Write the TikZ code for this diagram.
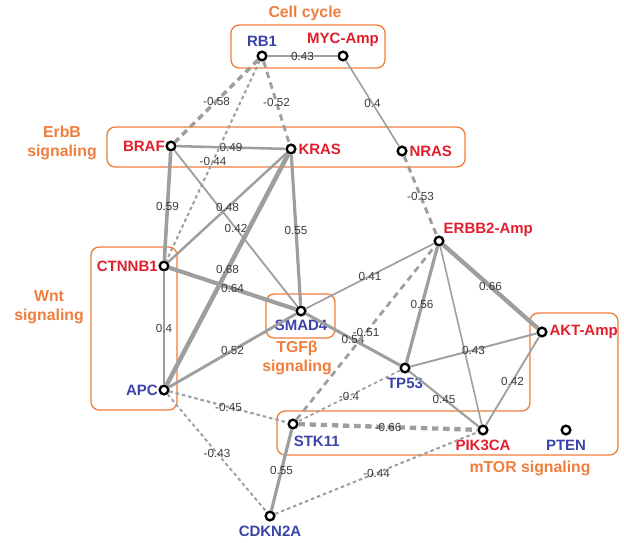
\documentclass[tikz,border=0pt]{standalone}
\usepackage{fontspec}
\setmainfont{Liberation Sans}
\usetikzlibrary{positioning}

\definecolor{genered}{RGB}{226,30,45}
\definecolor{geneblue}{RGB}{58,68,168}
\definecolor{grouporange}{RGB}{240,125,60}
\definecolor{linkgray}{RGB}{158,158,158}
\definecolor{wtgray}{RGB}{60,60,60}

\tikzset{
  gene/.style={circle, draw=black, line width=2pt, fill=white, inner sep=0pt, minimum size=0.26cm},
  redlab/.style={text=genered, font=\bfseries\fontsize{12.8}{14}\selectfont, inner sep=0.5pt},
  bluelab/.style={text=geneblue, font=\bfseries\fontsize{12.8}{14}\selectfont, inner sep=0.5pt},
  group/.style={draw=grouporange, line width=1.1pt, rounded corners=7pt},
  grouplab/.style={text=grouporange, font=\bfseries\fontsize{13.5}{16.5}\selectfont, align=center},
  edge/.style={draw=linkgray},
  poslink/.style={edge, line width=(#1-0.25)*9pt},
  neglink/.style={edge, line width=(#1-0.25)*9pt, dash pattern=on 3pt off 2.5pt},
  heavyneg/.style={edge, line width=(#1-0.25)*9pt, dash pattern=on 5.5pt off 4pt},
  wt/.style={text=wtgray, font=\fontsize{10}{11}\selectfont, inner sep=0pt}
}

\begin{document}
\begin{tikzpicture}[x=0.03cm, y=-0.03cm]
\useasboundingbox (0,0) rectangle (624,543);

% Pathway boxes
\draw[group] (231,25) rectangle (385,68);
\draw[group] (107,127) rectangle (465,167);
\draw[group] (91,247) rectangle (177,410);
\draw[group] (266,294) rectangle (335,338);
\draw[group] (277,411) -- (530,411) -- (530,313) -- (618,313) -- (618,455) -- (277,455) -- cycle;

\node[grouplab] (cellcycle) at (305,13) {Cell cycle};
\node[grouplab] (erbb) at (62,143) {ErbB\\signaling};
\node[grouplab] (wnt) at (49,307) {Wnt\\signaling};
\node[grouplab] (tgfb) at (297,358) {TGFβ\\signaling};
\node[grouplab] (mtor) at (530,468) {mTOR signaling};

% Genes
\node[gene, label={[bluelab, label distance=3pt]above:RB1}] (rb1) at (262,56) {};
\node[gene, label={[redlab, label distance=3pt]above:MYC-Amp}] (myc) at (343,56) {};
\node[gene, label={[redlab]left:BRAF}] (braf) at (171,146) {};
\node[gene, label={[redlab, label distance=1pt]right:KRAS}] (kras) at (291,149) {};
\node[gene, label={[redlab, label distance=1pt]right:NRAS}] (nras) at (402,151) {};
\node[gene, label={[redlab]left:CTNNB1}] (ctnnb1) at (164,266) {};
\node[gene, label={[bluelab]left:APC}] (apc) at (164,390) {};
\node[gene, label={[bluelab, label distance=2pt]below:SMAD4}] (smad4) at (301,311) {};
\node[gene, label={[redlab]above right:ERBB2-Amp}] (erbb2) at (439,241) {};
\node[gene, label={[redlab, label distance=1pt]right:AKT-Amp}] (akt) at (542,332) {};
\node[gene, label={[bluelab, label distance=3pt]below:TP53}] (tp53) at (405,368) {};
\node[gene, label={[redlab, label distance=3pt]below:PIK3CA}] (pik3ca) at (483,430) {};
\node[gene, label={[bluelab, label distance=3pt]below:PTEN}] (pten) at (566,430) {};
\node[gene, label={[bluelab, anchor=north west, label distance=5pt]below:STK11}] (stk11) at (293,424) {};
\node[gene, label={[bluelab, label distance=3pt]below:CDKN2A}] (cdkn2a) at (270,516) {};

% Positive links
\draw[poslink=0.43] (rb1) -- node[wt] {0.43} (myc);
\draw[poslink=0.4] (myc) -- node[wt] {0.4} (nras);
\draw[poslink=0.49] (braf) -- node[wt] {0.49} (kras);
\draw[poslink=0.59] (braf) -- node[wt] {0.59} (ctnnb1);
\draw[poslink=0.42] (braf) -- node[wt] {0.42} (smad4);
\draw[poslink=0.48] (kras) -- node[wt] {0.48} (ctnnb1);
\draw[poslink=0.68] (kras) -- node[wt] {0.68} (apc);
\draw[poslink=0.55] (kras) -- node[wt] {0.55} (smad4);
\draw[poslink=0.64] (ctnnb1) -- node[wt] {0.64} (smad4);
\draw[poslink=0.4] (ctnnb1) -- node[wt] {0.4} (apc);
\draw[poslink=0.52] (apc) -- node[wt] {0.52} (smad4);
\draw[poslink=0.41] (smad4) -- node[wt] {0.41} (erbb2);
\draw[poslink=0.54] (smad4) -- node[wt] {0.54} (tp53);
\draw[poslink=0.56] (erbb2) -- node[wt] {0.56} (tp53);
\draw[poslink=0.66] (erbb2) -- node[wt] {0.66} (akt);
\draw[poslink=0.4] (erbb2) -- (pik3ca);
\draw[poslink=0.43] (tp53) -- node[wt] {0.43} (akt);
\draw[poslink=0.45] (tp53) -- node[wt] {0.45} (pik3ca);
\draw[poslink=0.42] (akt) -- node[wt] {0.42} (pik3ca);
\draw[poslink=0.55] (stk11) -- node[wt] {0.55} (cdkn2a);

% Negative links
\draw[heavyneg=0.58] (rb1) -- node[wt] {-0.58} (braf);
\draw[neglink=0.44] (rb1) -- node[wt] {-0.44} (ctnnb1);
\draw[heavyneg=0.52] (rb1) -- node[wt] {-0.52} (kras);
\draw[heavyneg=0.53] (nras) -- node[wt] {-0.53} (erbb2);
\draw[heavyneg=0.51] (stk11) -- node[wt] {-0.51} (erbb2);
\draw[neglink=0.4] (tp53) -- node[wt] {-0.4} (stk11);
\draw[neglink=0.45] (apc) -- node[wt] {-0.45} (stk11);
\draw[heavyneg=0.66] (stk11) -- node[wt] {-0.66} (pik3ca);
\draw[neglink=0.43] (apc) -- node[wt] {-0.43} (cdkn2a);
\draw[neglink=0.44] (cdkn2a) -- node[wt] {-0.44} (pik3ca);

\end{tikzpicture}
\end{document}
